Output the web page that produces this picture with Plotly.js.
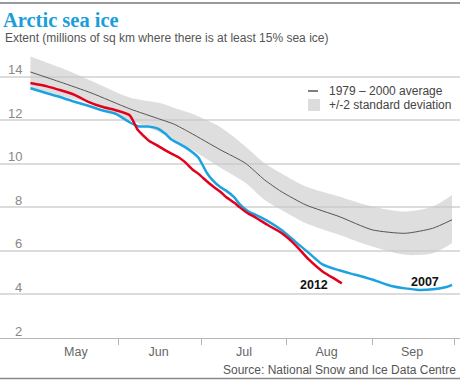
<!DOCTYPE html>
<html>
<head>
<meta charset="utf-8">
<script src="https://cdn.plot.ly/plotly-3.0.1.min.js"></script>
<style>html,body{margin:0;padding:0;background:#fff}#chart{width:460px;height:382px}</style>
</head>
<body>
<div id="chart"></div>
<script>
// ---- data ----
var lineDates = ["2012-04-30","2012-05-06","2012-05-11","2012-05-16","2012-05-21","2012-05-26","2012-05-31",
  "2012-06-05","2012-06-08","2012-06-10","2012-06-12","2012-06-15","2012-06-18","2012-06-20","2012-06-23",
  "2012-06-25","2012-06-28","2012-06-30","2012-07-03","2012-07-05","2012-07-08","2012-07-10","2012-07-13",
  "2012-07-15","2012-07-18","2012-07-20","2012-07-25","2012-07-30","2012-08-04","2012-08-09","2012-08-14",
  "2012-08-19","2012-08-21","2012-08-24","2012-08-29","2012-09-03","2012-09-08","2012-09-13","2012-09-18",
  "2012-09-23","2012-09-28","2012-09-30"];
var ice2012 = [13.71,13.56,13.38,13.17,12.85,12.62,12.46,12.23,11.55,11.29,11.06,10.85,10.62,10.48,10.28,
  10.09,9.72,9.54,9.20,8.99,8.71,8.48,8.21,8.00,7.72,7.59,7.20,6.83,6.29,5.61,5.06,4.67,4.51];
var ice2007 = [13.47,13.24,13.06,12.85,12.67,12.46,12.30,11.91,11.73,11.71,11.71,11.63,11.38,11.13,10.92,
  10.78,10.51,10.28,9.59,9.26,8.92,8.77,8.46,8.14,7.82,7.70,7.38,6.97,6.44,5.91,5.38,5.15,5.08,4.97,4.80,
  4.60,4.39,4.28,4.21,4.24,4.34,4.44];

var avgDates = ["2012-04-30","2012-05-11","2012-05-22","2012-06-05","2012-06-16","2012-06-21","2012-06-27",
  "2012-07-08","2012-07-17","2012-07-24","2012-07-30","2012-08-08","2012-08-20","2012-09-01","2012-09-13",
  "2012-09-23","2012-09-30"];
var avg7900 = [14.22,13.75,13.26,12.53,12.05,11.83,11.43,10.64,10.03,9.26,8.73,8.11,7.58,6.97,6.81,7.04,7.43];
var sdUpper = [14.93,14.41,13.82,13.05,12.79,12.58,12.33,11.68,10.80,10.03,9.57,8.96,8.50,8.04,7.81,8.04,8.57];
var sdLower = [13.49,13.13,12.76,12.02,11.43,11.10,10.69,9.82,9.13,8.34,7.89,7.27,6.74,6.20,5.82,5.89,6.35];

var monthNames = ["May","Jun","Jul","Aug","Sep"];
var monthMid = ["2012-05-16 12:00","2012-06-15 12:00","2012-07-16 12:00","2012-08-15 12:00","2012-09-15 12:00"];
var monthStarts = ["2012-06-01","2012-07-01","2012-08-01","2012-09-01","2012-10-01"];
var yTicks = [2,4,6,8,10,12,14];
var yTickText = ["2","4","6","8","10","12","14"];

var seriesNames = ["2012","2007"];
var legendNames = ["1979 \u2013 2000 average","+/-2 standard deviation"];

// ---- traces ----
var traces = [
  {x: avgDates, y: sdLower, type: "scatter", mode: "lines", line: {width: 0, shape: "spline", smoothing: 0.8, color: "rgba(0,0,0,0)"}, hoverinfo: "skip", showlegend: false},
  {x: avgDates, y: sdUpper, type: "scatter", mode: "lines", fill: "tonexty", fillcolor: "rgba(200,200,200,0.6)", line: {width: 0, shape: "spline", smoothing: 0.8, color: "rgba(0,0,0,0)"}, name: legendNames[1], showlegend: false},
  {x: avgDates, y: avg7900, type: "scatter", mode: "lines", line: {width: 1, shape: "spline", smoothing: 0.6, color: "#555555"}, name: legendNames[0], showlegend: false},
  {x: lineDates.slice(0, ice2007.length), y: ice2007, type: "scatter", mode: "lines", line: {width: 2.5, shape: "spline", smoothing: 0.6, color: "#1ba3e1"}, name: seriesNames[1], showlegend: false},
  {x: lineDates.slice(0, ice2012.length), y: ice2012, type: "scatter", mode: "lines", line: {width: 2.5, shape: "spline", smoothing: 0.6, color: "#e3001b"}, name: seriesNames[0], showlegend: false}
];

var PH = 283; // plot height px
function py(pix){ return (338 - pix) / PH; } // page pixel row -> paper y

// y tick labels sit just above their gridlines, right-aligned near the left edge
var yLabelAnns = yTicks.map(function(v, i){
  return {text: yTickText[i], xref: "paper", yref: "y", x: 23.5/460, xanchor: "right", y: v, yanchor: "bottom",
          yshift: -2.5, showarrow: false, font: {size: 13, color: "#888"}};
});

var layout = {
  width: 460, height: 382,
  margin: {l: 0, r: 0, t: 55, b: 44, pad: 0},
  paper_bgcolor: "#ffffff", plot_bgcolor: "#ffffff",
  font: {family: "Liberation Sans, Arial, sans-serif", size: 12, color: "#555"},
  showlegend: false,
  title: {text: "Arctic sea ice", font: {family: "Liberation Serif, serif", size: 20.5, color: "#1a9ed9", weight: "bold"},
          xref: "paper", x: 0.0065, xanchor: "left", yref: "container", y: 1 - 19.5/382, yanchor: "middle"},
  xaxis: {
    type: "date",
    range: ["2012-04-18 22:48", "2012-10-02 21:36"],
    showgrid: false, zeroline: false,
    showline: true, linecolor: "#b5b5b5", linewidth: 1,
    ticks: "", tickmode: "array", tickvals: monthMid, ticktext: monthNames,
    tickfont: {size: 12.5, color: "#666"},
    ticklabelstandoff: 2,
    minor: {tickmode: "array", tickvals: monthStarts, ticks: "outside", ticklen: 6, tickwidth: 1, tickcolor: "#b5b5b5", showgrid: false},
    fixedrange: true
  },
  yaxis: {
    range: [2, 15],
    tickmode: "array", tickvals: yTicks, ticktext: yTickText,
    showticklabels: false,
    ticks: "", showline: false, zeroline: false,
    showgrid: true, gridcolor: "#dcdcdc", gridwidth: 2,
    fixedrange: true
  },
  annotations: yLabelAnns.concat([
    {text: "Extent (millions of sq km where there is at least 15% sea ice)", xref: "paper", yref: "paper",
     x: 0.0065, xanchor: "left", y: py(37.7), yanchor: "middle", showarrow: false, font: {size: 12, color: "#555"}},
    {text: "Source: National Snow and Ice Data Centre", xref: "paper", yref: "paper",
     x: 0.9957, xanchor: "right", y: py(370), yanchor: "middle", showarrow: false, font: {size: 12, color: "#555"}},
    {text: legendNames[0], xref: "paper", yref: "paper", x: 327/460, xanchor: "left", y: py(91), yanchor: "middle",
     showarrow: false, font: {size: 12, color: "#444"}},
    {text: legendNames[1], xref: "paper", yref: "paper", x: 327/460, xanchor: "left", y: py(105), yanchor: "middle",
     showarrow: false, font: {size: 12, color: "#444"}},
    {text: "<b>" + seriesNames[0] + "</b>", xref: "x", yref: "y", x: "2012-08-10 22:00", y: 4.44, xanchor: "center", yanchor: "middle",
     showarrow: false, font: {size: 12.5, color: "#111"}},
    {text: "<b>" + seriesNames[1] + "</b>", xref: "x", yref: "y", x: "2012-09-20 08:00", y: 4.59, xanchor: "center", yanchor: "middle",
     showarrow: false, font: {size: 12.5, color: "#111"}}
  ]),
  shapes: [
    {type: "line", xref: "paper", yref: "paper", x0: 0, x1: 1, y0: py(3), y1: py(3), line: {color: "#777", width: 1.5}},
    {type: "line", xref: "paper", yref: "paper", x0: 0, x1: 1, y0: py(378.5), y1: py(378.5), line: {color: "#888", width: 1.5}},
    {type: "line", xref: "paper", yref: "paper", x0: 308/460, x1: 318/460, y0: py(91), y1: py(91), line: {color: "#555", width: 1.5}},
    {type: "rect", xref: "paper", yref: "paper", x0: 308/460, x1: 320/460, y0: py(111), y1: py(99), fillcolor: "#dcdcdc", line: {width: 0}}
  ]
};

Plotly.newPlot("chart", traces, layout, {displayModeBar: false, staticPlot: true});
</script>
</body>
</html>
